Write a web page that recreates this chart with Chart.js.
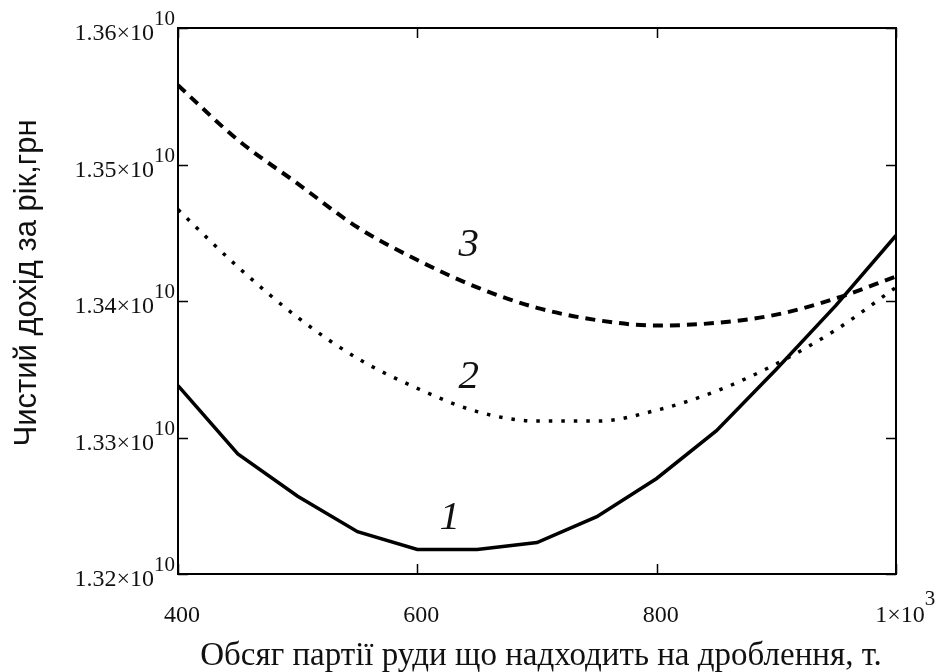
<!DOCTYPE html>
<html>
<head>
<meta charset="utf-8">
<script src="https://cdn.jsdelivr.net/npm/chart.js@4/dist/chart.umd.min.js"></script>
<style>
  html, body { margin: 0; padding: 0; background: #fff; }
  #wrap { width: 936px; height: 672px; }
</style>
</head>
<body>
<div id="wrap"><canvas id="incomeChart" width="936" height="672"></canvas></div>
<script>
// --- Data ---
const batchSizes = [400, 450, 500, 550, 600, 650, 700, 750, 800, 850, 900, 950, 1000];
const curve1 = [1.3338e10, 1.3288e10, 1.3257e10, 1.3231e10, 1.3218e10, 1.3218e10, 1.3223e10,
                1.3242e10, 1.3270e10, 1.3305e10, 1.3350e10, 1.3397e10, 1.3448e10];
const curve2 = [1.3467e10, 1.3425e10, 1.3388e10, 1.3358e10, 1.3336e10, 1.3319e10, 1.3312e10,
                1.3312e10, 1.3320e10, 1.3334e10, 1.3354e10, 1.3379e10, 1.3410e10];
const curve3 = [1.3558e10, 1.3518e10, 1.3486e10, 1.3454e10, 1.3430e10, 1.3410e10, 1.3395e10,
                1.3386e10, 1.3382e10, 1.3384e10, 1.3390e10, 1.3402e10, 1.3418e10];

// tick values and their printed text (mantissa + superscript)
const xTicks = [400, 600, 800, 1000];
const xTickText = ['400', '600', '800', '1\u00d710'];
const xTickSup = ['', '', '', '3'];
const yTicks = [1.32e10, 1.33e10, 1.34e10, 1.35e10, 1.36e10];
const yTickText = ['1.32\u00d710', '1.33\u00d710', '1.34\u00d710', '1.35\u00d710', '1.36\u00d710'];
const yTickSup = ['10', '10', '10', '10', '10'];

// curve numbers placed next to each line
const curveLabels = ['1', '2', '3'];
const curveLabelX = [627, 643, 643];
const curveLabelY = [1.3241e10, 1.3344e10, 1.3441e10];

const xTitle = 'Обсяг партії руди що надходить на дроблення, т.';
const yTitle = 'Чистий дохід за рік,грн';

function toPoints(ys) {
    return batchSizes.map((x, i) => ({ x: x, y: ys[i] }));
}

// --- Frame, inward ticks, labels and titles ---
const mathcadFrame = {
    id: 'mathcadFrame',
    afterDatasetsDraw(chart) {
        const ctx = chart.ctx;
        const area = chart.chartArea;
        const xs = chart.scales.x, ys = chart.scales.y;
        const serif = '"Liberation Serif", "Times New Roman", serif';
        const ink = '#111';

        ctx.save();
        ctx.strokeStyle = '#000';
        ctx.lineWidth = 2;
        ctx.strokeRect(area.left, area.top, area.right - area.left, area.bottom - area.top);

        // inward tick marks on all four sides
        ctx.lineWidth = 1.5;
        ctx.beginPath();
        xTicks.forEach(v => {
            const px = Math.round(xs.getPixelForValue(v)) + 0.5;
            ctx.moveTo(px, area.bottom); ctx.lineTo(px, area.bottom - 10);
            ctx.moveTo(px, area.top); ctx.lineTo(px, area.top + 10);
        });
        yTicks.forEach(v => {
            const py = Math.round(ys.getPixelForValue(v)) + 0.5;
            ctx.moveTo(area.left, py); ctx.lineTo(area.left + 10, py);
            ctx.moveTo(area.right, py); ctx.lineTo(area.right - 10, py);
        });
        ctx.stroke();

        ctx.fillStyle = ink;
        ctx.textBaseline = 'alphabetic';

        // x tick labels
        xTicks.forEach((v, i) => {
            const px = xs.getPixelForValue(v) + 4;
            const base = area.bottom + 48;
            ctx.font = '24px ' + serif;
            ctx.textAlign = 'center';
            ctx.fillText(xTickText[i], px, base);
            if (xTickSup[i]) {
                const w = ctx.measureText(xTickText[i]).width;
                ctx.font = '21px ' + serif;
                ctx.textAlign = 'left';
                ctx.fillText(xTickSup[i], px + w / 2, base - 17);
            }
        });

        // y tick labels, right aligned against the axis
        yTicks.forEach((v, i) => {
            const py = ys.getPixelForValue(v);
            const right = area.left - 3;
            ctx.font = '21px ' + serif;
            ctx.textAlign = 'right';
            ctx.fillText(yTickSup[i], right, py - 3);
            const sw = ctx.measureText(yTickSup[i]).width;
            ctx.font = '24px ' + serif;
            ctx.fillText(yTickText[i], right - sw, py + 12);
        });

        // curve numbers
        ctx.font = 'italic 41px ' + serif;
        ctx.textAlign = 'center';
        ctx.textBaseline = 'middle';
        curveLabels.forEach((t, i) => {
            ctx.fillText(t, xs.getPixelForValue(curveLabelX[i]), ys.getPixelForValue(curveLabelY[i]));
        });

        // axis titles
        ctx.textBaseline = 'alphabetic';
        ctx.font = '33px ' + serif;
        ctx.fillText(xTitle, 541, 665);

        ctx.translate(27, 283);
        ctx.rotate(-Math.PI / 2);
        ctx.font = '31px "Liberation Sans", Arial, sans-serif';
        ctx.textBaseline = 'middle';
        ctx.fillText(yTitle, 0, 0);
        ctx.restore();
    }
};

const ctx = document.getElementById('incomeChart').getContext('2d');
new Chart(ctx, {
    type: 'line',
    data: {
        datasets: [
            { label: '1', data: toPoints(curve1), borderColor: '#000', borderWidth: 3.5, tension: 0 },
            { label: '2', data: toPoints(curve2), borderColor: '#000', borderWidth: 3.5, borderDash: [3.5, 9], tension: 0.4, cubicInterpolationMode: 'monotone' },
            { label: '3', data: toPoints(curve3), borderColor: '#000', borderWidth: 4, borderDash: [10, 7], tension: 0.4, cubicInterpolationMode: 'monotone' }
        ]
    },
    options: {
        responsive: false,
        animation: false,
        layout: { padding: { left: 178, right: 40, top: 28, bottom: 98 } },
        elements: { point: { radius: 0 } },
        plugins: { legend: { display: false }, tooltip: { enabled: false } },
        scales: {
            x: { type: 'linear', min: 400, max: 1000, display: false },
            y: { type: 'linear', min: 1.32e10, max: 1.36e10, display: false }
        }
    },
    plugins: [mathcadFrame]
});
</script>
</body>
</html>
